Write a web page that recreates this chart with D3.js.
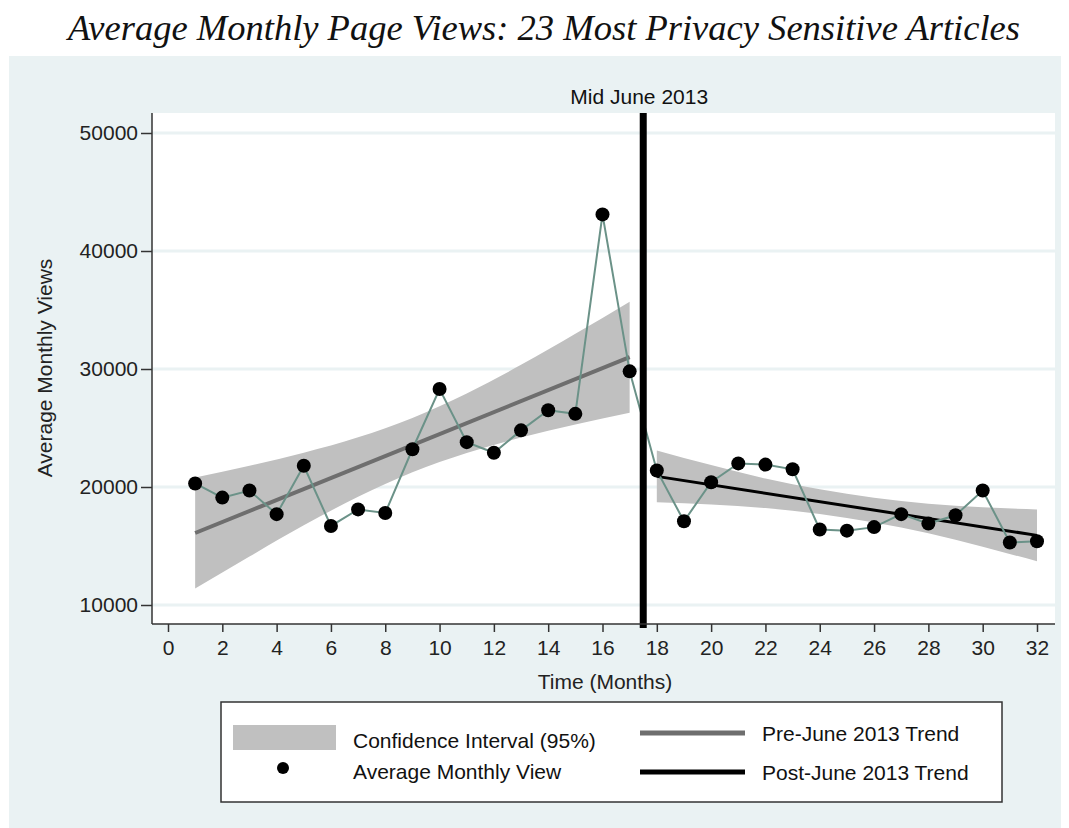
<!DOCTYPE html>
<html><head><meta charset="utf-8">
<script src="https://cdn.jsdelivr.net/npm/d3@7"></script>
<style>body{margin:0;background:#fff;}svg{display:block;}</style>
</head><body>
<svg id="chart" width="1069" height="828"></svg>
<script>
// ---- data ----
const months = [1,2,3,4,5,6,7,8,9,10,11,12,13,14,15,16,17,18,19,20,21,22,23,24,25,26,27,28,29,30,31,32];
const views  = [20300,19100,19700,17700,21800,16700,18100,17800,23200,28300,23800,22900,24800,26500,26200,43100,29800,
                21400,17100,20400,22000,21900,21500,16400,16300,16600,17700,16900,17600,19700,15300,15400];
const preTrendMonths = [1,17];
const preTrend = [16100,31000];
const postTrendMonths = [18,32];
const postTrend = [20900,15900];
const ciPreMonths = [1,3,5,7,9,11,13,15,17];
const ciPreLow  = [11400,14100,16750,19170,21250,22890,24190,25300,26300];
const ciPreHigh = [20800,21800,22900,24210,25850,27930,30350,32980,35700];
const ciPostMonths = [18,20,22,24,26,28,30,32];
const ciPostLow  = [18700,18520,18220,17720,17000,16080,14940,13700];
const ciPostHigh = [23100,21860,20720,19800,19080,18580,18280,18100];
const xTicks = d3.range(0,33,2);
const yTicks = [10000,20000,30000,40000,50000];
const breakMonth = 17.5;
const titleText = "Average Monthly Page Views: 23 Most Privacy Sensitive Articles";
const breakLabel = "Mid June 2013";
const legendItems = ["Confidence Interval (95%)","Average Monthly View","Pre-June 2013 Trend","Post-June 2013 Trend"];

// ---- layout ----
const svg = d3.select("#chart");
const font = "Arial, 'Liberation Sans', sans-serif";
const fs = 21;
const plot = {left:152, right:1055, top:113, bottom:624};
const x = d3.scaleLinear().domain([0,32]).range([168,1037]);
const y = d3.scaleLinear().domain([10000,50000]).range([605,133]);

// background panel
svg.append("rect").attr("x",9).attr("y",56).attr("width",1052).attr("height",772).attr("fill","#eaf2f3");
// title
svg.append("text").attr("x",544).attr("y",40).attr("text-anchor","middle")
  .attr("font-family","'Liberation Serif','Times New Roman',serif").attr("font-style","italic")
  .attr("font-size",36).attr("fill","#111")
  .attr("textLength",952).attr("lengthAdjust","spacingAndGlyphs").text(titleText);
// plot area
svg.append("rect").attr("x",plot.left).attr("y",plot.top).attr("width",plot.right-plot.left)
  .attr("height",plot.bottom-plot.top).attr("fill","#fff");
// grid
svg.append("g").selectAll("line").data(yTicks).join("line")
  .attr("x1",plot.left).attr("x2",plot.right).attr("y1",d=>y(d)).attr("y2",d=>y(d))
  .attr("stroke","#eaf2f3").attr("stroke-width",3);

// CI bands
function band(ms, lo, hi){
  const pts = ms.map((m,i)=>({m, lo:lo[i], hi:hi[i]}));
  return d3.area().x(d=>x(d.m)).y0(d=>y(d.lo)).y1(d=>y(d.hi)).curve(d3.curveMonotoneX)(pts);
}
svg.append("path").attr("d",band(ciPreMonths,ciPreLow,ciPreHigh)).attr("fill","#c0c0c0");
svg.append("path").attr("d",band(ciPostMonths,ciPostLow,ciPostHigh)).attr("fill","#c0c0c0");

// trend lines
const ln = d3.line().x(d=>x(d[0])).y(d=>y(d[1]));
svg.append("path").attr("d",ln(preTrendMonths.map((m,i)=>[m,preTrend[i]])))
  .attr("stroke","#6e6e6e").attr("stroke-width",4).attr("fill","none");
svg.append("path").attr("d",ln(postTrendMonths.map((m,i)=>[m,postTrend[i]])))
  .attr("stroke","#000").attr("stroke-width",3).attr("fill","none");

// data line
svg.append("path").attr("d",ln(months.map((m,i)=>[m,views[i]])))
  .attr("stroke","#6b9288").attr("stroke-width",2).attr("fill","none");
svg.append("g").selectAll("circle").data(months).join("circle")
  .attr("cx",d=>x(d)).attr("cy",(d,i)=>y(views[i])).attr("r",7).attr("fill","#000");

// break line
svg.append("line").attr("x1",x(breakMonth)).attr("x2",x(breakMonth)).attr("y1",plot.top).attr("y2",plot.bottom+4)
  .attr("stroke","#000").attr("stroke-width",7);
svg.append("text").attr("x",x(breakMonth)-4).attr("y",104).attr("text-anchor","middle")
  .attr("font-family",font).attr("font-size",fs).attr("fill","#111").text(breakLabel);

// axes
const yAxis = svg.append("g").attr("transform",`translate(${plot.left},0)`)
  .call(d3.axisLeft(y).tickValues(yTicks).tickFormat(d3.format("d")).tickSize(11).tickPadding(3).tickSizeOuter(0));
yAxis.select(".domain").attr("d",`M0,${plot.top}V${plot.bottom}`);
const xAxis = svg.append("g").attr("transform",`translate(0,${plot.bottom})`)
  .call(d3.axisBottom(x).tickValues(xTicks).tickFormat(d3.format("d")).tickSize(8).tickPadding(8).tickSizeOuter(0));
xAxis.select(".domain").attr("d",`M${plot.left},0H${plot.right}`);
[yAxis,xAxis].forEach(a=>{
  a.selectAll("path,line").attr("stroke","#333").attr("stroke-width",1.5);
  a.selectAll("text").attr("font-family",font).attr("font-size",fs).attr("fill","#222");
});
svg.append("text").attr("x",605).attr("y",689).attr("text-anchor","middle")
  .attr("font-family",font).attr("font-size",fs).attr("fill","#222").text("Time (Months)");
svg.append("text").attr("transform","translate(52,368) rotate(-90)").attr("text-anchor","middle")
  .attr("font-family",font).attr("font-size",fs).attr("fill","#222").text("Average Monthly Views");

// legend
const lg = svg.append("g");
lg.append("rect").attr("x",221).attr("y",702).attr("width",781).attr("height",100)
  .attr("fill","#fff").attr("stroke","#333").attr("stroke-width",1.5);
lg.append("rect").attr("x",233).attr("y",725).attr("width",103).attr("height",25).attr("fill","#c0c0c0");
lg.append("circle").attr("cx",283).attr("cy",768).attr("r",6).attr("fill","#000");
lg.append("line").attr("x1",640).attr("x2",745).attr("y1",733).attr("y2",733).attr("stroke","#6e6e6e").attr("stroke-width",5);
lg.append("line").attr("x1",640).attr("x2",745).attr("y1",772).attr("y2",772).attr("stroke","#000").attr("stroke-width",5);
const lt = [[353,748,0],[353,779,1],[762,741,2],[762,780,3]];
lg.selectAll("text").data(lt).join("text").attr("x",d=>d[0]).attr("y",d=>d[1])
  .attr("font-family",font).attr("font-size",fs).attr("fill","#111").text(d=>legendItems[d[2]]);
</script>
</body></html>
